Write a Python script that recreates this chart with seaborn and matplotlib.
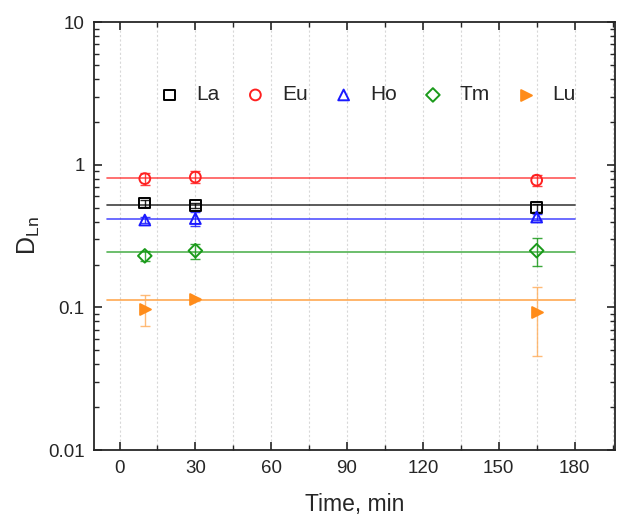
import seaborn as sns
import pandas as pd
import numpy as np
import matplotlib.pyplot as plt
from matplotlib.ticker import FixedLocator, NullFormatter

# Distribution ratios vs contact time
times = [10, 30, 165]
elements = ['La', 'Eu', 'Ho', 'Tm', 'Lu']
d_la = [0.54, 0.52, 0.50]
d_eu = [0.80, 0.82, 0.78]
d_ho = [0.41, 0.42, 0.43]
d_tm = [0.23, 0.25, 0.25]
d_lu = [0.098, 0.114, 0.093]
err_la = [0.03, 0.02, 0.03]
err_eu = [0.08, 0.08, 0.07]
err_ho = [0.02, 0.05, 0.02]
err_tm = [0.02, 0.03, 0.055]
err_lu = [0.024, 0.003, 0.047]
levels = [0.525, 0.81, 0.42, 0.243, 0.113]   # mean D values (horizontal lines)
line_span = [-5, 180]

values = [d_la, d_eu, d_ho, d_tm, d_lu]
errors = [err_la, err_eu, err_ho, err_tm, err_lu]
colors = ['#000000', '#ff2020', '#1a1aff', '#1a9a1a', '#ff8c1a']
markers = ['s', 'o', '^', 'D', '>']

data = pd.DataFrame({'Element': np.repeat(elements, len(times)),
                     'Time': times * len(elements),
                     'D': np.concatenate(values),
                     'err': np.concatenate(errors)})

sns.set_style('ticks')
plt.rcParams['font.family'] = ['Liberation Sans', 'DejaVu Sans']
plt.rcParams['xtick.direction'] = 'in'
plt.rcParams['ytick.direction'] = 'in'

fig = plt.figure(figsize=(6.2, 5.15), dpi=100)
ax = fig.add_axes([0.152, 0.126, 0.840, 0.831])

for el, col, mk, lev in zip(elements, colors, markers, levels):
    sub = data[data['Element'] == el]
    ax.plot(line_span, [lev, lev], color=col, lw=1.2, alpha=0.75, zorder=2)
    ecol = col if el != 'Lu' else '#ffb060'
    ax.errorbar(sub['Time'], sub['D'], yerr=sub['err'], fmt='none',
                ecolor=ecol, elinewidth=1.0, capsize=3.5, alpha=0.85, zorder=3)
    filled = el == 'Lu'
    sns.scatterplot(data=sub, x='Time', y='D', ax=ax, marker=mk, s=60 if mk != 'D' else 48,
                    facecolor=col if filled else 'none', edgecolor=col,
                    linewidth=1.4, zorder=4, label=el)

ax.set_yscale('log')
ax.set_ylim(0.01, 10)
ax.set_xlim(-10, 196)
ax.set_xticks(np.arange(0, 181, 30))
ax.xaxis.set_minor_locator(FixedLocator(np.arange(15, 196, 30)))
ax.set_yticks([0.01, 0.1, 1, 10])
ax.set_yticklabels(['0.01', '0.1', '1', '10'])
ax.yaxis.set_minor_formatter(NullFormatter())
ax.tick_params(which='both', top=True, right=True, labelsize=13.5)
ax.tick_params(which='major', length=6, width=1.2, pad=7)
ax.tick_params(which='minor', length=3.5, width=1.0)
ax.xaxis.grid(True, which='both', linestyle=(0, (2, 2)), color='#d8d8d8', lw=0.8)
for s in ax.spines.values():
    s.set_linewidth(1.3)

ax.set_xlabel('Time, min', fontsize=16.5, labelpad=12)
ax.set_ylabel('D$_{\\mathregular{Ln}}$', fontsize=18, labelpad=4)

ax.legend(loc='center', bbox_to_anchor=(0.525, 0.83), ncol=5, frameon=False,
          fontsize=15, handlelength=1.0, handletextpad=0.8, columnspacing=1.2,
          borderaxespad=0)

fig.savefig('out.png', dpi=100)
